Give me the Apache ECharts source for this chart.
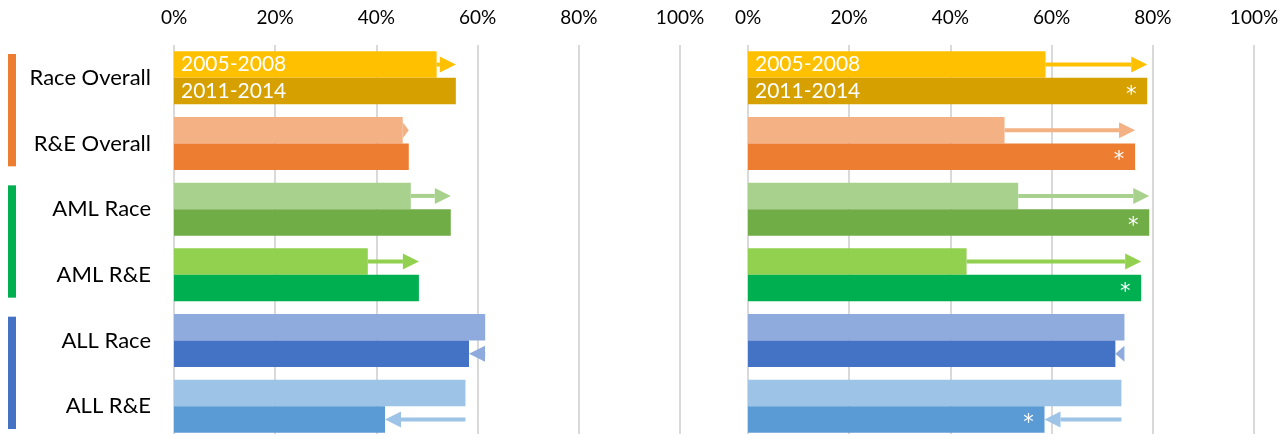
<!DOCTYPE html>
<html>
<head>
<meta charset="utf-8">
<script src="https://cdn.jsdelivr.net/npm/echarts@6/dist/echarts.min.js"></script>
<style>
    html, body {margin: 0; padding: 0; background: #fff;}
    #main {width: 1281px; height: 434px;}
</style>
</head>
<body>
<div id="main"></div>
<script>
let categories = ['Race Overall', 'R&E Overall', 'AML Race', 'AML R&E', 'ALL Race', 'ALL R&E'];
let periods = ['2005-2008', '2011-2014'];
let xTicks = [0, 20, 40, 60, 80, 100];

// left panel, %
let leftEarly = [51.9, 45.2, 46.8, 38.3, 61.5, 57.6];
let leftLate = [55.7, 46.4, 54.7, 48.4, 58.3, 41.7];
// right panel, %
let rightEarly = [58.8, 50.7, 53.4, 43.2, 74.4, 73.8];
let rightLate = [78.9, 76.5, 79.3, 77.7, 72.6, 58.6];
// asterisk on the later bar of the right panel
let rightSignificant = [true, true, true, true, false, true];

// groups marked by the coloured bars at the far left: first and last category
let groups = [[0, 1], [2, 3], [4, 5]];

let earlyColors = ['#FFC000', '#F4B183', '#A9D18E', '#92D050', '#8FAADC', '#9DC3E6'];
let lateColors = ['#D6A000', '#ED7D31', '#70AD47', '#00B050', '#4472C4', '#5B9BD5'];
let groupColors = ['#ED7D31', '#00B050', '#4472C4'];

let font = 'Lato';
let barW = 26.5;

let main = document.getElementById('main');
let chart = echarts.init(main, null, {renderer: 'canvas'});

let arrowItem = (params, api) => {
    let cat = api.value(0);
    let from = api.value(1);
    let to = api.value(2);
    let a = api.coord([from, cat]);
    let b = api.coord([to, cat]);
    let up = to >= from;
    let y = a[1] + (up ? -barW / 2 : barW / 2);
    let dir = up ? 1 : -1;
    let head = Math.min(16, Math.abs(b[0] - a[0]));
    let base = b[0] - dir * head;
    let color = earlyColors[cat];
    return {
        type: 'group',
        children: [
            {
                type: 'rect',
                shape: {x: Math.min(a[0], base), y: y - 2, width: Math.abs(base - a[0]), height: 4},
                style: {fill: color}
            },
            {
                type: 'polygon',
                shape: {points: [[base, y - 8], [b[0], y], [base, y + 8]]},
                style: {fill: color}
            }
        ]
    };
};

let starItem = (params, api) => {
    let cat = api.value(0);
    let p = api.coord([api.value(1), cat]);
    return {
        type: 'text',
        style: {
            text: '*',
            x: p[0] - 16,
            y: p[1] + barW / 2 + 4,
            align: 'center',
            verticalAlign: 'middle',
            fill: '#fff',
            fontFamily: 'DejaVu Sans',
            fontSize: 21
        }
    };
};

let groupItem = (params, api) => {
    let first = api.coord([0, api.value(1)]);
    let last = api.coord([0, api.value(2)]);
    let band = api.size([0, 1])[1];
    let top = first[1] - band / 2 + 9;
    let bottom = last[1] + band / 2 - 10;
    return {
        type: 'rect',
        shape: {x: first[0] - 166, y: top, width: 8, height: bottom - top},
        style: {fill: groupColors[params.dataIndex]}
    };
};

let barPair = (early, late, axisIndex) => [
    {
        type: 'bar',
        name: periods[0],
        xAxisIndex: axisIndex,
        yAxisIndex: axisIndex,
        data: early,
        barWidth: barW,
        barGap: '0%',
        itemStyle: {color: (p) => earlyColors[p.dataIndex]},
        label: {
            show: true,
            position: 'insideLeft',
            distance: 7,
            color: '#fff',
            fontFamily: font,
            fontSize: 21,
            formatter: (p) => p.dataIndex === 0 ? periods[0] : ''
        },
        silent: true
    },
    {
        type: 'bar',
        name: periods[1],
        xAxisIndex: axisIndex,
        yAxisIndex: axisIndex,
        data: late,
        barWidth: barW,
        barGap: '0%',
        itemStyle: {color: (p) => lateColors[p.dataIndex]},
        label: {
            show: true,
            position: 'insideLeft',
            distance: 7,
            color: '#fff',
            fontFamily: font,
            fontSize: 21,
            formatter: (p) => p.dataIndex === 0 ? periods[1] : ''
        },
        silent: true
    },
    {
        type: 'custom',
        xAxisIndex: axisIndex,
        yAxisIndex: axisIndex,
        renderItem: arrowItem,
        encode: {x: [1, 2], y: 0},
        data: categories.map((c, i) => [i, early[i], late[i]]),
        z: 5,
        silent: true
    }
];

let xAxis = (gridIndex) => ({
    type: 'value',
    gridIndex: gridIndex,
    position: 'top',
    min: xTicks[0],
    max: xTicks[xTicks.length - 1],
    interval: xTicks[1] - xTicks[0],
    axisLine: {show: false},
    axisTick: {show: false},
    axisLabel: {
        color: '#000',
        fontFamily: font,
        fontSize: 19,
        margin: 18,
        formatter: '{value}%'
    },
    splitLine: {show: true, lineStyle: {color: '#D9D9D9', width: 2}}
});

let yAxis = (gridIndex, showLabels) => ({
    type: 'category',
    gridIndex: gridIndex,
    inverse: true,
    data: categories,
    axisLine: {show: false},
    axisTick: {show: false},
    axisLabel: {
        show: showLabels,
        color: '#000',
        fontFamily: font,
        fontSize: 22,
        margin: 23
    },
    splitLine: {show: false}
});

let option = {
    animation: false,
    grid: [
        {left: 174, width: 506, top: 45, height: 394, outerBoundsMode: 'none', containLabel: false},
        {left: 748, width: 506, top: 45, height: 394, outerBoundsMode: 'none', containLabel: false}
    ],
    xAxis: [xAxis(0), xAxis(1)],
    yAxis: [yAxis(0, true), yAxis(1, false)],
    series: [
        ...barPair(leftEarly, leftLate, 0),
        ...barPair(rightEarly, rightLate, 1),
        {
            type: 'custom',
            xAxisIndex: 1,
            yAxisIndex: 1,
            renderItem: starItem,
            encode: {x: 1, y: 0},
            data: categories.map((c, i) => [i, rightLate[i]]).filter((d, i) => rightSignificant[i]),
            z: 6,
            silent: true
        },
        {
            type: 'custom',
            xAxisIndex: 0,
            yAxisIndex: 0,
            renderItem: groupItem,
            encode: {x: 0, y: 1},
            clip: false,
            data: groups.map(g => [0, g[0], g[1]]),
            silent: true
        }
    ]
};

chart.setOption(option);
window.addEventListener('resize', chart.resize);
</script>
</body>
</html>
